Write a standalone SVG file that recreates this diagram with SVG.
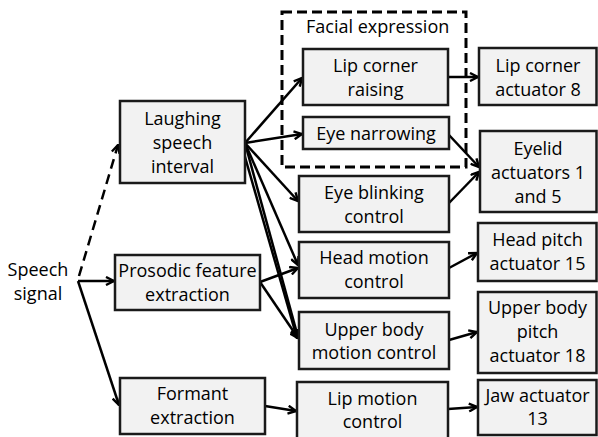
<svg xmlns="http://www.w3.org/2000/svg" width="598" height="437" viewBox="0 0 598 437">
<style>
.box{fill:#f2f2f2;stroke:#1a1a1a;stroke-width:2.5}
.t{font-family:"Open Sans","Liberation Sans",sans-serif;font-size:18px;fill:#000;text-anchor:middle}
.c{stroke:#000;stroke-width:2.5;fill:none;marker-end:url(#ah)}
.d{stroke-dasharray:10,6}
</style>
<defs>
<marker id="ah" viewBox="0 0 10 10" refX="9" refY="5" markerWidth="10" markerHeight="10" markerUnits="userSpaceOnUse" orient="auto">
<path d="M1,1 L9,5 L1,9" fill="none" stroke="#000" stroke-width="2.4" stroke-linejoin="miter"/>
</marker>
</defs>
<rect width="598" height="437" fill="#fff"/>

<g id="facial-expression-group">
<rect x="282" y="12" width="184" height="155" fill="none" stroke="#000" stroke-width="3" stroke-dasharray="10,5"/>
<text class="t" x="306" y="33" style="text-anchor:start">Facial expression</text>
</g>

<g id="connectors">
<line class="c d" x1="79" y1="276" x2="118" y2="145"/>
<line class="c" x1="78" y1="281" x2="114" y2="281"/>
<line class="c" x1="78" y1="281" x2="119" y2="405"/>
<line class="c" x1="245" y1="143" x2="302" y2="78"/>
<line class="c" x1="245" y1="143" x2="302" y2="134"/>
<line class="c" x1="245" y1="143" x2="298" y2="201"/>
<line class="c" x1="245" y1="143" x2="298" y2="265"/>
<line class="c" x1="245" y1="143" x2="298" y2="337"/>
<line class="c" x1="243" y1="150" x2="297" y2="338"/>
<line class="c" x1="260" y1="282" x2="298" y2="268"/>
<line class="c" x1="260" y1="282" x2="298" y2="338"/>
<line class="c" x1="448" y1="77" x2="478" y2="77"/>
<line class="c" x1="449" y1="135" x2="479" y2="167"/>
<line class="c" x1="449" y1="203" x2="479" y2="172"/>
<line class="c" x1="449" y1="268" x2="477" y2="253"/>
<line class="c" x1="449" y1="340" x2="477" y2="332"/>
<line class="c" x1="265" y1="406" x2="296" y2="411"/>
<line class="c" x1="448" y1="409" x2="477" y2="407"/>
</g>

<g id="speech-signal">
<text class="t" x="38" y="276">Speech</text>
<text class="t" x="38" y="300">signal</text>
</g>

<g id="laughing-speech-interval">
<rect class="box" x="120" y="101" width="125" height="82"/>
<text class="t" x="182.5" y="125">Laughing</text>
<text class="t" x="182.5" y="149">speech</text>
<text class="t" x="182.5" y="173">interval</text>
</g>

<g id="prosodic-feature-extraction">
<rect class="box" x="115" y="255" width="145" height="55"/>
<text class="t" x="187.5" y="277">Prosodic feature</text>
<text class="t" x="187.5" y="301">extraction</text>
</g>

<g id="formant-extraction">
<rect class="box" x="120" y="378" width="145" height="56"/>
<text class="t" x="192.5" y="400">Formant</text>
<text class="t" x="192.5" y="424">extraction</text>
</g>

<g id="lip-corner-raising">
<rect class="box" x="303" y="49" width="145" height="56"/>
<text class="t" x="375.5" y="72">Lip corner</text>
<text class="t" x="375.5" y="96">raising</text>
</g>

<g id="eye-narrowing">
<rect class="box" x="303" y="117" width="146" height="32"/>
<text class="t" x="376" y="140">Eye narrowing</text>
</g>

<g id="eye-blinking-control">
<rect class="box" x="299" y="176" width="150" height="56"/>
<text class="t" x="374" y="199">Eye blinking</text>
<text class="t" x="374" y="223">control</text>
</g>

<g id="head-motion-control">
<rect class="box" x="299" y="242" width="150" height="56"/>
<text class="t" x="374" y="264">Head motion</text>
<text class="t" x="374" y="288">control</text>
</g>

<g id="upper-body-motion-control">
<rect class="box" x="299" y="312" width="150" height="57"/>
<text class="t" x="374" y="336">Upper body</text>
<text class="t" x="374" y="359">motion control</text>
</g>

<g id="lip-motion-control">
<rect class="box" x="297" y="382" width="151" height="60"/>
<text class="t" x="372.5" y="405">Lip motion</text>
<text class="t" x="372.5" y="428">control</text>
</g>

<g id="lip-corner-actuator-8">
<rect class="box" x="479" y="48" width="117.5" height="57"/>
<text class="t" x="538" y="72">Lip corner</text>
<text class="t" x="538" y="96">actuator 8</text>
</g>

<g id="eyelid-actuators">
<rect class="box" x="480" y="131" width="116.5" height="81"/>
<text class="t" x="538" y="155">Eyelid</text>
<text class="t" x="538" y="179">actuators 1</text>
<text class="t" x="538" y="203">and 5</text>
</g>

<g id="head-pitch-actuator-15">
<rect class="box" x="478" y="223" width="118.5" height="58"/>
<text class="t" x="537.5" y="246">Head pitch</text>
<text class="t" x="537.5" y="270">actuator 15</text>
</g>

<g id="upper-body-pitch-actuator-18">
<rect class="box" x="478" y="292" width="118.5" height="81"/>
<text class="t" x="537.5" y="314">Upper body</text>
<text class="t" x="537.5" y="338">pitch</text>
<text class="t" x="537.5" y="362">actuator 18</text>
</g>

<g id="jaw-actuator-13">
<rect class="box" x="478" y="380" width="118.5" height="55"/>
<text class="t" x="537.5" y="402">Jaw actuator</text>
<text class="t" x="537.5" y="425">13</text>
</g>
</svg>
